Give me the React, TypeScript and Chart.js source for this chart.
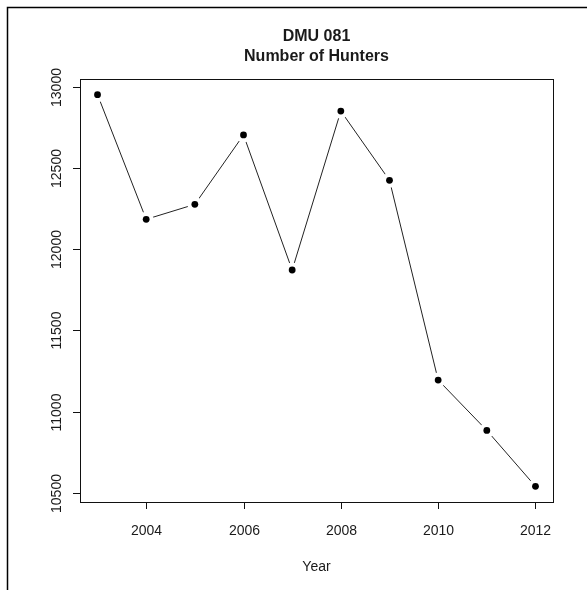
import React, { useEffect, useRef } from "react";
import { Chart, registerables } from "chart.js";

Chart.register(...registerables);

const years = [2003, 2004, 2005, 2006, 2007, 2008, 2009, 2010, 2011, 2012];
const hunters = [12950, 12183, 12275, 12702, 11871, 12849, 12423, 11194, 10884, 10540];
const xTickValues = [2004, 2006, 2008, 2010, 2012];
const yTickValues = [10500, 11000, 11500, 12000, 12500, 13000];
const titleLines = ["DMU 081", "Number of Hunters"];
const xAxisTitle = "Year";

const FONT = "'Liberation Sans', Arial, Helvetica, sans-serif";

function expand(vals: number[]) {
  const mn = Math.min(...vals);
  const mx = Math.max(...vals);
  const r = mx - mn;
  return [mn - 0.04 * r, mx + 0.04 * r];
}

const decorPlugin = {
  id: "rDecor",
  afterDraw(chart: any) {
    const { ctx, chartArea: a, scales } = chart;
    const xs = scales.x;
    const ys = scales.y;
    ctx.save();
    // outer frame
    ctx.strokeStyle = "#000";
    ctx.lineWidth = 1.5;
    ctx.beginPath();
    ctx.moveTo(7.5, chart.height);
    ctx.lineTo(7.5, 7.5);
    ctx.lineTo(chart.width, 7.5);
    ctx.stroke();

    // plot box
    ctx.lineWidth = 1;
    ctx.strokeStyle = "#111";
    ctx.strokeRect(Math.round(a.left) + 0.5, Math.round(a.top) + 0.5, Math.round(a.right - a.left), Math.round(a.bottom - a.top));

    ctx.fillStyle = "#1a1a1a";
    // x ticks
    ctx.font = `14px ${FONT}`;
    ctx.textAlign = "center";
    ctx.textBaseline = "middle";
    xTickValues.forEach((v) => {
      const px = Math.round(xs.getPixelForValue(v)) + 0.5;
      ctx.beginPath();
      ctx.moveTo(px, a.bottom);
      ctx.lineTo(px, a.bottom + 7);
      ctx.stroke();
      ctx.fillText(String(v), px, 531);
    });
    // y ticks
    yTickValues.forEach((v) => {
      const py = Math.round(ys.getPixelForValue(v)) + 0.5;
      ctx.beginPath();
      ctx.moveTo(a.left, py);
      ctx.lineTo(a.left - 7, py);
      ctx.stroke();
      ctx.save();
      ctx.translate(57, py);
      ctx.rotate(-Math.PI / 2);
      ctx.fillText(String(v), 0, 0);
      ctx.restore();
    });
    // axis title
    ctx.fillText(xAxisTitle, (a.left + a.right) / 2, 567);

    // main title
    ctx.font = `bold 16px ${FONT}`;
    const cx = (a.left + a.right) / 2;
    ctx.fillText(titleLines[0], cx, 37);
    ctx.fillText(titleLines[1], cx, 57);
    ctx.restore();
  },
};

export default function App() {
  const ref = useRef<HTMLCanvasElement | null>(null);
  useEffect(() => {
    if (!ref.current) return;
    const [xmin, xmax] = expand(years);
    const [ymin, ymax] = expand(hunters);
    const pts = years.map((y, i) => ({ x: y, y: hunters[i] }));
    const chart = new Chart(ref.current, {
      type: "scatter",
      data: {
        datasets: [
          {
            data: pts,
            showLine: false,
            pointRadius: 3.4,
            pointBackgroundColor: "#000",
            pointBorderWidth: 0,
            pointHoverRadius: 3.4,
            order: 0,
          },
          {
            data: pts,
            showLine: true,
            borderColor: "#222",
            borderWidth: 1,
            pointRadius: 7.5,
            pointBackgroundColor: "#fff",
            pointBorderWidth: 0,
            pointHoverRadius: 7.5,
            order: 1,
          },
        ],
      },
      options: {
        responsive: false,
        animation: false,
        events: [],
        layout: { padding: { left: 80, top: 79, right: 34, bottom: 88 } },
        scales: {
          x: { type: "linear", min: xmin, max: xmax, display: false },
          y: { type: "linear", min: ymin, max: ymax, display: false },
        },
        plugins: {
          legend: { display: false },
          tooltip: { enabled: false },
          title: { display: false },
        },
      },
      plugins: [decorPlugin],
    });
    return () => chart.destroy();
  }, []);
  return (
    <div style={{ position: "fixed", left: 0, top: 0, width: 587, height: 590, background: "#fff" }}>
      <canvas ref={ref} width={587} height={590} style={{ display: "block", width: 587, height: 590 }} />
    </div>
  );
}
